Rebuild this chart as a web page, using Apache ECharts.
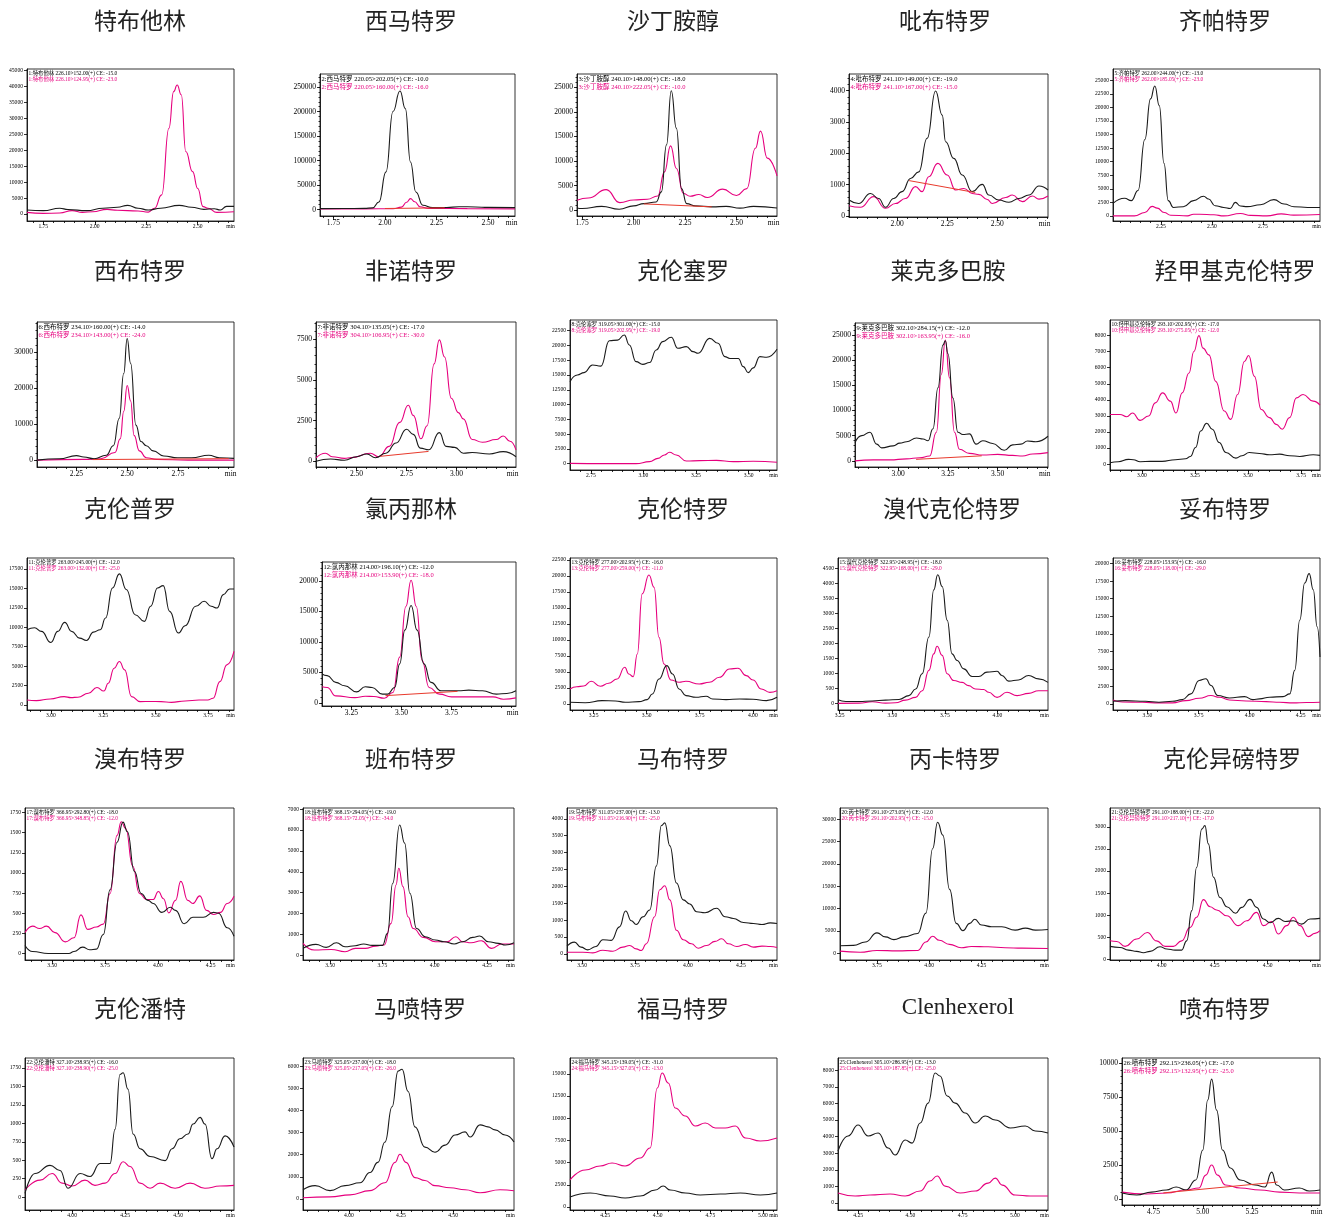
<!DOCTYPE html>
<html><head><meta charset="utf-8">
<script src="https://cdn.jsdelivr.net/npm/echarts@6/dist/echarts.min.js"></script>
<style>html,body{margin:0;padding:0;background:#fff}#c{width:1327px;height:1219px}</style>
</head><body><div id="c"></div>
<script>
// ---------- names & legends ----------
const names = ['特布他林','西马特罗','沙丁胺醇','吡布特罗','齐帕特罗','西布特罗','非诺特罗','克伦塞罗','莱克多巴胺','羟甲基克伦特罗','克伦普罗','氯丙那林','克伦特罗','溴代克伦特罗','妥布特罗','溴布特罗','班布特罗','马布特罗','丙卡特罗','克伦异磅特罗','克伦潘特','马喷特罗','福马特罗','Clenhexerol','喷布特罗'];
const legendBlack = ['1:特布他林 226.10>152.00(+) CE: -15.0','2:西马特罗 220.05>202.05(+) CE: -10.0','3:沙丁胺醇 240.10>148.00(+) CE: -18.0','4:吡布特罗 241.10>149.00(+) CE: -19.0','5:齐帕特罗 262.00>244.00(+) CE: -13.0','6:西布特罗 234.10>160.00(+) CE: -14.0','7:非诺特罗 304.10>135.05(+) CE: -17.0','8:克伦塞罗 319.05>301.00(+) CE: -15.0','9:莱克多巴胺 302.10>284.15(+) CE: -12.0','10:羟甲基克伦特罗 293.10>202.95(+) CE: -17.0','11:克伦普罗 263.00>245.00(+) CE: -12.0','12:氯丙那林 214.00>196.10(+) CE: -12.0','13:克伦特罗 277.00>202.95(+) CE: -16.0','15:溴代克伦特罗 322.95>248.95(+) CE: -18.0','16:妥布特罗 228.05>153.95(+) CE: -16.0','17:溴布特罗 366.95>292.80(+) CE: -18.0','18:班布特罗 368.15>294.05(+) CE: -19.0','19:马布特罗 311.05>237.00(+) CE: -13.0','20:丙卡特罗 291.10>273.05(+) CE: -12.0','21:克伦异磅特罗 291.10>188.00(+) CE: -22.0','22:克伦潘特 327.10>238.95(+) CE: -16.0','23:马喷特罗 325.05>237.00(+) CE: -18.0','24:福马特罗 345.15>139.05(+) CE: -31.0','25:Clenhexerol 305.10>286.95(+) CE: -13.0','26:喷布特罗 292.15>236.05(+) CE: -17.0'];
const legendPink = ['1:特布他林 226.10>124.95(+) CE: -23.0','2:西马特罗 220.05>160.00(+) CE: -16.0','3:沙丁胺醇 240.10>222.05(+) CE: -10.0','4:吡布特罗 241.10>167.00(+) CE: -15.0','5:齐帕特罗 262.00>185.05(+) CE: -23.0','6:西布特罗 234.10>143.00(+) CE: -24.0','7:非诺特罗 304.10>106.95(+) CE: -30.0','8:克伦塞罗 319.05>202.95(+) CE: -19.0','9:莱克多巴胺 302.10>163.95(+) CE: -16.0','10:羟甲基克伦特罗 293.10>275.05(+) CE: -12.0','11:克伦普罗 263.00>132.00(+) CE: -25.0','12:氯丙那林 214.00>153.90(+) CE: -18.0','13:克伦特罗 277.00>259.00(+) CE: -11.0','15:溴代克伦特罗 322.95>168.00(+) CE: -29.0','16:妥布特罗 228.05>118.00(+) CE: -29.0','17:溴布特罗 366.95>348.85(+) CE: -12.0','18:班布特罗 368.15>72.05(+) CE: -34.0','19:马布特罗 311.05>216.90(+) CE: -25.0','20:丙卡特罗 291.10>202.95(+) CE: -15.0','21:克伦异磅特罗 291.10>217.10(+) CE: -17.0','22:克伦潘特 327.10>238.90(+) CE: -25.0','23:马喷特罗 325.05>217.05(+) CE: -26.0','24:福马特罗 345.15>327.05(+) CE: -13.0','25:Clenhexerol 305.10>187.85(+) CE: -25.0','26:喷布特罗 292.15>132.95(+) CE: -25.0'];

// ---------- axis extents & tick labels ----------
const xRange = [[1.671,2.676],[1.685,2.631],[1.725,2.697],[1.76,2.753],[2.015,3.03],[2.056,3.026],[2.298,3.297],[2.651,3.635],[2.783,3.753],[2.85,3.839],[2.886,3.874],[3.103,4.072],[3.139,4.114],[3.242,4.24],[3.331,4.345],[3.371,4.361],[3.37,4.379],[3.429,4.421],[3.573,4.568],[3.756,4.747],[3.778,4.764],[3.779,4.793],[4.083,5.067],[4.154,5.158],[4.59,5.595]];
const yRange = [[-2200,45500],[-13000,276600],[-1160,27700],[-30,4530],[-940,27060],[-1810,38380],[-360,8580],[-1070,24300],[-1220,27370],[-370,8970],[-645,18900],[-500,23100],[-940,22800],[-220,4840],[-860,20800],[-80,1805],[-220,7050],[-180,4320],[-1520,32530],[-20,3430],[-174,1884],[-505,6376],[-340,16780],[-420,8735],[-440,10370]];
const xLabels = [[1.75,2,2.25,2.5],[1.75,2,2.25,2.5],[1.75,2,2.25,2.5],[2,2.25,2.5],[2.25,2.5,2.75],[2.25,2.5,2.75],[2.5,2.75,3],[2.75,3,3.25,3.5],[3,3.25,3.5],[3,3.25,3.5,3.75],[3,3.25,3.5,3.75],[3.25,3.5,3.75],[3.25,3.5,3.75,4],[3.25,3.5,3.75,4],[3.5,3.75,4,4.25],[3.5,3.75,4,4.25],[3.5,3.75,4,4.25],[3.5,3.75,4,4.25],[3.75,4,4.25],[4,4.25,4.5],[4,4.25,4.5],[4,4.25,4.5],[4.25,4.5,4.75,5],[4.25,4.5,4.75,5],[4.75,5,5.25]];
const yStep = [5000,50000,5000,1000,2500,10000,2500,2500,5000,1000,2500,5000,2500,500,2500,250,1000,500,5000,500,250,1000,2500,1000,2500];
const yTop = [45000,250000,25000,4000,25000,30000,7500,22500,25000,8000,17500,20000,22500,4500,20000,1750,7000,4000,30000,3000,1750,6000,15000,8000,10000];

// ---------- traces (retention time min, intensity) ----------
const blk1 = [[1.671,1250],[1.75,1050],[1.83,1800],[1.87,1400],[1.96,1050],[2.04,1800],[2.11,2100],[2.16,2700],[2.21,1800],[2.26,1250],[2.32,1800],[2.41,2700],[2.47,2100],[2.53,1450],[2.58,1650],[2.61,1250],[2.64,2400],[2.676,2400]];
const mag1 = [[1.671,500],[1.75,200],[1.83,300],[1.89,1050],[1.94,500],[1.99,700],[2.06,1450],[2.11,1150],[2.21,950],[2.26,600],[2.29,1800],[2.325,6000],[2.36,26900],[2.383,38400],[2.40,40500],[2.42,37400],[2.442,19600],[2.475,13300],[2.50,8000],[2.526,2300],[2.55,1800],[2.593,500],[2.676,700]];
const blk2 = [[1.685,2000],[1.80,2200],[1.90,2500],[1.94,3500],[1.971,15700],[2.005,77000],[2.039,200000],[2.073,242000],[2.099,206000],[2.124,97000],[2.15,36000],[2.184,9000],[2.23,4000],[2.30,4200],[2.36,6000],[2.44,5500],[2.50,4500],[2.631,4000]];
const mag2 = [[1.685,1500],[1.90,1500],[2.04,1800],[2.08,5000],[2.105,15000],[2.124,22500],[2.145,16000],[2.17,6000],[2.21,2500],[2.40,2000],[2.631,1500]];
const base2 = [[2.0,2300],[2.29,3600]];
const blk3 = [[1.725,480],[1.75,350],[1.845,800],[1.93,200],[2.00,900],[2.05,1360],[2.11,1700],[2.135,3750],[2.16,13300],[2.183,24300],[2.208,16700],[2.233,4400],[2.258,1360],[2.30,900],[2.383,700],[2.45,800],[2.517,450],[2.583,800],[2.697,450]];
const mag3 = [[1.725,2040],[1.78,2500],[1.867,4200],[1.933,1560],[2.00,2100],[2.067,2250],[2.117,2900],[2.15,7800],[2.18,13100],[2.208,8500],[2.242,3400],[2.275,2860],[2.317,3200],[2.358,2600],[2.433,4300],[2.50,3000],[2.55,4400],[2.592,12600],[2.617,16100],[2.65,10600],[2.697,7000]];
const base3 = [[2.05,1300],[2.38,700]];
const blk4 = [[1.76,510],[1.808,400],[1.867,720],[1.908,560],[1.942,280],[1.983,560],[2.025,780],[2.067,1200],[2.108,1410],[2.15,2480],[2.192,3990],[2.225,3220],[2.242,2370],[2.283,1840],[2.325,1310],[2.375,780],[2.425,1010],[2.458,670],[2.508,510],[2.558,440],[2.608,560],[2.658,670],[2.708,960],[2.753,830]];
const mag4 = [[1.76,330],[1.817,280],[1.883,620],[1.942,250],[1.992,400],[2.042,560],[2.092,940],[2.125,780],[2.158,1255],[2.203,1680],[2.25,1310],[2.292,830],[2.333,880],[2.375,720],[2.408,690],[2.45,530],[2.475,400],[2.542,590],[2.575,670],[2.625,460],[2.675,640],[2.708,540],[2.753,640]];
const base4 = [[2.06,1130],[2.39,750]];
const blk5 = [[2.015,2310],[2.072,3250],[2.105,2810],[2.138,4690],[2.171,14060],[2.199,21560],[2.22,23940],[2.242,20310],[2.265,9690],[2.286,2810],[2.311,1560],[2.36,1690],[2.41,2810],[2.459,3625],[2.484,3100],[2.516,1875],[2.558,1560],[2.59,1375],[2.615,2500],[2.64,1810],[2.673,1700],[2.738,2060],[2.804,3000],[2.854,2190],[2.903,1690],[2.969,1560],[3.03,1560]];
const mag5 = [[2.015,0],[2.12,0],[2.171,625],[2.207,1750],[2.232,1440],[2.266,625],[2.298,125],[2.38,0],[2.41,300],[2.44,310],[2.51,200],[2.558,0],[2.64,440],[2.69,100],[2.77,0],[2.84,375],[2.90,150],[3.03,250]];
const blk6 = [[2.056,100],[2.166,480],[2.25,1330],[2.286,950],[2.337,480],[2.397,1430],[2.432,4100],[2.461,11700],[2.483,24100],[2.50,33800],[2.517,26900],[2.543,9800],[2.568,5240],[2.594,4100],[2.628,2670],[2.68,1240],[2.748,760],[2.817,760],[2.902,1430],[2.954,760],[3.026,570]];
const mag6 = [[2.056,100],[2.286,290],[2.371,480],[2.44,2190],[2.466,6000],[2.483,13600],[2.50,20800],[2.517,16500],[2.534,6950],[2.56,2670],[2.594,760],[2.645,290],[2.80,100],[3.026,100]];
const base6 = [[2.33,250],[3.0,500]];
const blk7 = [[2.298,0],[2.371,130],[2.44,60],[2.50,275],[2.552,445],[2.595,210],[2.647,490],[2.698,1120],[2.75,1970],[2.784,1650],[2.819,805],[2.862,700],[2.914,1760],[2.948,910],[2.991,850],[3.034,490],[3.078,530],[3.164,445],[3.233,590],[3.297,275]];
const mag7 = [[2.298,210],[2.345,490],[2.379,275],[2.44,170],[2.474,220],[2.569,490],[2.612,275],[2.664,910],[2.716,2390],[2.759,3450],[2.784,2820],[2.822,1380],[2.853,2180],[2.888,6000],[2.914,7480],[2.94,6420],[2.974,3880],[3.009,2990],[3.034,2610],[3.078,1335],[3.129,1165],[3.198,1335],[3.233,1550],[3.267,1230],[3.297,700]];
const base7 = [[2.62,300],[2.86,600]];
const blk8 = [[2.651,13870],[2.686,15000],[2.718,15400],[2.758,16700],[2.798,16500],[2.838,20800],[2.877,20900],[2.909,21770],[2.933,20080],[2.965,17260],[2.997,16800],[3.029,17100],[3.061,19230],[3.092,20640],[3.132,21380],[3.164,19510],[3.204,19800],[3.236,18950],[3.26,18670],[3.315,21200],[3.355,20360],[3.387,18100],[3.411,17800],[3.451,17800],[3.475,16410],[3.498,15400],[3.522,16200],[3.554,18100],[3.586,18000],[3.635,19350]];
const mag8 = [[2.651,50],[2.82,0],[2.965,0],[3.029,340],[3.069,900],[3.10,1470],[3.124,1920],[3.156,1470],[3.204,450],[3.267,510],[3.347,560],[3.427,340],[3.522,400],[3.635,230]];
const blk9 = [[2.783,3660],[2.817,5010],[2.858,5690],[2.892,3320],[2.917,2570],[2.975,2980],[3.008,3520],[3.042,3790],[3.092,4540],[3.125,4340],[3.15,4000],[3.175,6370],[3.20,14500],[3.225,22970],[3.237,23850],[3.25,21270],[3.275,12470],[3.30,5690],[3.325,5220],[3.358,5350],[3.392,3320],[3.425,4000],[3.475,3460],[3.533,2100],[3.575,3180],[3.617,3320],[3.65,3930],[3.692,3800],[3.753,4880]];
const mag9 = [[2.783,0],[2.875,200],[2.958,200],[3.042,400],[3.108,610],[3.158,950],[3.192,5690],[3.217,17200],[3.237,24000],[3.258,16500],[3.283,5690],[3.308,2300],[3.358,1490],[3.425,1150],[3.50,1290],[3.575,1080],[3.625,950],[3.675,1360],[3.753,1630]];
const base9 = [[3.09,300],[3.42,1000]];
const blk10 = [[2.85,80],[2.889,145],[2.937,290],[2.96,270],[2.992,145],[3.04,165],[3.095,165],[3.158,270],[3.206,330],[3.229,475],[3.253,1030],[3.277,2060],[3.305,2540],[3.332,2170],[3.364,1340],[3.396,720],[3.443,370],[3.472,520],[3.506,720],[3.554,660],[3.601,580],[3.649,620],[3.696,520],[3.744,475],[3.807,580],[3.839,540]];
const mag10 = [[2.85,3090],[2.897,3090],[2.929,2950],[2.956,3180],[2.992,2720],[3.032,2990],[3.063,3810],[3.098,4430],[3.134,3920],[3.161,3180],[3.19,4430],[3.222,5670],[3.245,7010],[3.269,8000],[3.288,7220],[3.316,6800],[3.348,5150],[3.388,3300],[3.419,2780],[3.451,4330],[3.483,6390],[3.503,6760],[3.53,5460],[3.562,3400],[3.601,2890],[3.633,2470],[3.661,2170],[3.696,2890],[3.728,4120],[3.759,4330],[3.807,3920],[3.839,3670]];
const blk11 = [[2.886,9680],[2.922,9930],[2.955,9460],[3.00,8040],[3.033,9460],[3.066,10620],[3.099,9460],[3.137,8600],[3.17,8300],[3.203,9370],[3.236,9680],[3.261,11180],[3.294,15050],[3.327,16860],[3.36,14840],[3.402,11610],[3.446,10750],[3.476,12690],[3.509,15050],[3.536,15350],[3.567,12040],[3.608,9250],[3.641,10190],[3.691,12690],[3.732,13330],[3.765,12690],[3.793,12470],[3.823,14190],[3.853,14920],[3.874,14920]];
const mag11 = [[2.886,645],[2.931,560],[2.997,775],[3.063,1075],[3.096,950],[3.129,1000],[3.179,1500],[3.22,2240],[3.253,1800],[3.274,2800],[3.302,4730],[3.327,5590],[3.352,4520],[3.385,1075],[3.426,430],[3.476,450],[3.526,430],[3.575,340],[3.641,520],[3.707,645],[3.749,640],[3.774,860],[3.807,3010],[3.84,5160],[3.874,6880]];
const blk12 = [[3.103,4750],[3.129,4470],[3.172,3370],[3.216,2820],[3.276,1820],[3.319,2650],[3.353,2540],[3.405,1440],[3.431,1440],[3.466,2540],[3.491,6410],[3.517,11930],[3.548,15970],[3.578,11930],[3.612,6410],[3.647,3370],[3.698,1990],[3.784,1990],[3.836,2100],[3.905,1990],[3.974,1440],[4.026,1550],[4.072,1990]];
const mag12 = [[3.103,2650],[3.129,2540],[3.172,1160],[3.267,880],[3.319,1100],[3.362,1050],[3.414,770],[3.457,1710],[3.491,7510],[3.522,15800],[3.548,20110],[3.574,15800],[3.603,6960],[3.638,2540],[3.69,1440],[3.75,990],[3.836,990],[3.957,990],[4.009,610],[4.072,830]];
const base12 = [[3.42,1200],[3.78,1900]];
const blk13 = [[3.139,260],[3.211,200],[3.29,520],[3.353,470],[3.40,260],[3.464,365],[3.503,680],[3.527,1560],[3.558,3900],[3.595,5990],[3.622,4690],[3.653,2340],[3.685,1300],[3.732,1040],[3.78,1200],[3.811,780],[3.874,680],[3.938,780],[4.001,730],[4.064,520],[4.114,1040]];
const mag13 = [[3.139,2340],[3.171,2700],[3.203,2800],[3.239,3540],[3.282,2760],[3.321,3230],[3.361,3900],[3.397,5730],[3.416,4690],[3.437,4270],[3.456,7810],[3.479,17190],[3.511,20150],[3.535,18230],[3.558,10420],[3.582,6250],[3.614,3750],[3.653,3390],[3.685,3540],[3.748,3125],[3.795,3390],[3.843,4170],[3.89,5470],[3.93,5570],[3.969,4430],[4.001,3750],[4.04,2340],[4.08,1820],[4.114,2080]];
const blk15 = [[3.242,120],[3.279,65],[3.342,65],[3.405,80],[3.468,110],[3.532,130],[3.579,260],[3.611,480],[3.642,985],[3.674,2210],[3.697,3780],[3.716,4280],[3.737,3890],[3.761,2770],[3.784,1650],[3.808,1430],[3.84,1150],[3.879,895],[3.911,895],[3.95,1040],[3.998,1070],[4.021,930],[4.053,740],[4.10,780],[4.148,930],[4.195,815],[4.24,700]];
const mag15 = [[3.242,0],[3.342,10],[3.405,55],[3.468,10],[3.515,20],[3.563,110],[3.611,200],[3.642,420],[3.674,1100],[3.697,1650],[3.713,1900],[3.737,1600],[3.761,985],[3.792,760],[3.832,700],[3.863,590],[3.895,480],[3.934,460],[3.958,370],[3.998,200],[4.045,370],[4.093,260],[4.148,335],[4.195,420],[4.24,420]];
const blk16 = [[3.331,380],[3.392,480],[3.49,380],[3.556,240],[3.622,380],[3.671,620],[3.712,1440],[3.753,3350],[3.786,3590],[3.811,2630],[3.844,1200],[3.901,860],[3.975,1050],[4.016,620],[4.049,720],[4.098,960],[4.164,1050],[4.197,1440],[4.221,4790],[4.246,11960],[4.27,17230],[4.292,18570],[4.312,16270],[4.331,11000],[4.345,6700]];
const mag16 = [[3.331,570],[3.377,290],[3.475,240],[3.556,150],[3.622,150],[3.688,480],[3.753,810],[3.811,1200],[3.852,960],[3.901,570],[3.983,430],[4.082,330],[4.148,240],[4.213,150],[4.279,200],[4.345,240]];
const blk17 = [[3.371,100],[3.407,25],[3.481,0],[3.579,0],[3.603,25],[3.644,80],[3.677,47],[3.709,55],[3.742,237],[3.774,790],[3.807,1380],[3.835,1630],[3.856,1510],[3.889,1020],[3.921,745],[3.954,660],[3.978,620],[4.019,510],[4.06,575],[4.084,535],[4.125,370],[4.166,450],[4.215,450],[4.264,510],[4.288,500],[4.329,320],[4.361,215]];
const mag17 = [[3.371,260],[3.407,340],[3.44,310],[3.473,340],[3.513,260],[3.562,145],[3.603,195],[3.636,480],[3.668,300],[3.709,330],[3.742,365],[3.774,745],[3.807,1465],[3.827,1635],[3.848,1550],[3.881,1085],[3.913,745],[3.946,670],[3.978,670],[4.003,770],[4.027,680],[4.052,505],[4.084,660],[4.109,895],[4.142,660],[4.166,620],[4.199,715],[4.231,535],[4.264,485],[4.297,510],[4.329,620],[4.361,710]];
const blk18 = [[3.37,335],[3.432,525],[3.481,385],[3.53,605],[3.571,415],[3.62,465],[3.66,545],[3.701,480],[3.75,480],[3.774,1055],[3.799,3450],[3.832,6240],[3.856,5370],[3.881,2970],[3.913,1290],[3.954,895],[4.003,735],[4.044,655],[4.093,545],[4.133,655],[4.182,860],[4.215,925],[4.256,655],[4.305,575],[4.337,495],[4.379,605]];
const mag18 = [[3.37,575],[3.424,255],[3.505,285],[3.571,175],[3.62,335],[3.668,335],[3.717,445],[3.758,495],[3.791,1530],[3.815,3370],[3.828,4170],[3.848,3290],[3.872,1850],[3.897,1290],[3.946,860],[4.003,655],[4.06,655],[4.101,895],[4.133,655],[4.174,605],[4.223,700],[4.272,335],[4.321,545],[4.379,545]];
const blk19 = [[3.429,230],[3.464,350],[3.495,200],[3.527,120],[3.566,220],[3.598,420],[3.638,400],[3.677,800],[3.706,1270],[3.733,980],[3.756,870],[3.788,1100],[3.82,1300],[3.851,2600],[3.875,3800],[3.891,3880],[3.915,3200],[3.946,2100],[3.978,1600],[4.009,1480],[4.041,1250],[4.081,1220],[4.136,1350],[4.176,1100],[4.215,1050],[4.263,930],[4.31,900],[4.35,870],[4.389,920],[4.421,900]];
const mag19 = [[3.429,50],[3.503,50],[3.551,30],[3.598,110],[3.646,80],[3.693,200],[3.725,250],[3.756,150],[3.78,100],[3.804,300],[3.843,1100],[3.867,1900],[3.891,2020],[3.915,1600],[3.946,700],[3.978,420],[4.017,300],[4.049,170],[4.089,250],[4.128,370],[4.16,450],[4.191,300],[4.231,220],[4.271,280],[4.31,200],[4.35,230],[4.389,220],[4.421,190]];
const blk20 = [[3.573,1670],[3.637,1750],[3.694,2510],[3.75,4560],[3.79,3650],[3.831,3040],[3.879,3650],[3.944,4410],[3.984,8970],[4.016,23400],[4.04,29340],[4.065,26450],[4.097,14290],[4.129,6690],[4.161,5020],[4.194,6690],[4.218,7600],[4.25,6310],[4.298,5930],[4.347,5930],[4.411,5170],[4.46,5620],[4.508,5170],[4.568,5320]];
const mag20 = [[3.573,460],[3.669,230],[3.75,610],[3.847,530],[3.944,610],[3.984,2510],[4.016,3800],[4.048,2890],[4.097,1980],[4.153,1220],[4.202,1520],[4.282,1440],[4.363,1220],[4.444,1140],[4.568,1060]];
const blk21 = [[3.756,290],[3.803,265],[3.843,205],[3.882,175],[3.914,145],[3.945,175],[3.992,280],[4.024,230],[4.063,205],[4.094,205],[4.118,415],[4.142,1100],[4.165,2085],[4.189,2950],[4.204,3030],[4.22,2615],[4.244,1860],[4.275,1400],[4.307,1190],[4.349,1040],[4.377,1175],[4.417,1355],[4.448,1175],[4.48,910],[4.511,825],[4.55,925],[4.582,855],[4.621,870],[4.66,795],[4.70,910],[4.747,925]];
const mag21 = [[3.756,415],[3.788,400],[3.827,290],[3.882,455],[3.932,605],[3.976,415],[4.016,290],[4.055,290],[4.094,415],[4.134,720],[4.165,950],[4.197,1350],[4.228,1190],[4.259,1115],[4.307,985],[4.362,760],[4.401,870],[4.448,1060],[4.48,760],[4.519,855],[4.55,570],[4.59,760],[4.621,950],[4.653,760],[4.692,510],[4.723,585],[4.747,645]];
const blk22 = [[3.778,50],[3.825,320],[3.896,430],[3.943,360],[3.981,120],[4.038,320],[4.085,280],[4.132,455],[4.179,455],[4.203,920],[4.226,1660],[4.241,1685],[4.264,1460],[4.288,855],[4.321,655],[4.368,550],[4.439,495],[4.472,655],[4.509,790],[4.547,855],[4.571,990],[4.604,1080],[4.627,990],[4.66,520],[4.684,655],[4.722,830],[4.764,680]];
const mag22 = [[3.778,95],[3.849,230],[3.906,320],[3.953,190],[4.00,150],[4.061,230],[4.108,160],[4.156,190],[4.203,320],[4.241,480],[4.274,415],[4.321,190],[4.368,120],[4.415,190],[4.486,120],[4.557,190],[4.627,120],[4.698,150],[4.764,160]];
const blk23 = [[3.779,410],[3.837,600],[3.909,370],[3.981,600],[4.053,730],[4.101,1190],[4.139,1650],[4.173,2570],[4.207,4170],[4.236,5780],[4.255,5870],[4.284,4860],[4.317,3260],[4.365,2340],[4.413,2110],[4.462,2430],[4.51,2890],[4.558,3030],[4.582,2800],[4.63,3350],[4.668,3260],[4.702,3120],[4.75,2890],[4.793,2570]];
const mag23 = [[3.779,50],[3.909,90],[4.005,180],[4.101,370],[4.173,730],[4.221,1650],[4.245,2020],[4.274,1650],[4.317,960],[4.365,830],[4.413,600],[4.486,500],[4.558,410],[4.63,275],[4.726,410],[4.793,370]];
const blk24 = [[4.083,1130],[4.179,1580],[4.274,1240],[4.345,1010],[4.417,1240],[4.488,1910],[4.526,2360],[4.56,1910],[4.631,1580],[4.702,1350],[4.798,1460],[4.893,1580],[4.988,1350],[5.067,1580]];
const mag24 = [[4.083,3040],[4.155,4170],[4.226,4620],[4.283,4950],[4.345,4620],[4.417,5520],[4.464,6640],[4.498,13400],[4.521,15090],[4.55,13960],[4.583,11150],[4.631,10250],[4.679,9120],[4.726,9460],[4.774,8900],[4.821,8900],[4.869,9120],[4.917,7770],[4.988,7430],[5.067,7770]];
const blk25 = [[4.154,3130],[4.202,4040],[4.25,4700],[4.298,4040],[4.346,4220],[4.394,3310],[4.427,2890],[4.475,3800],[4.508,3610],[4.547,4820],[4.585,6020],[4.618,7830],[4.642,7650],[4.676,6450],[4.714,6020],[4.762,5420],[4.81,4820],[4.858,5240],[4.906,5000],[4.977,4520],[5.049,4640],[5.097,4340],[5.158,4220]];
const mag25 = [[4.154,600],[4.236,420],[4.307,480],[4.403,540],[4.475,420],[4.547,720],[4.594,1330],[4.628,1630],[4.666,1020],[4.738,600],[4.81,720],[4.872,1200],[4.906,1500],[4.939,1080],[5.001,480],[5.073,420],[5.158,420]];
const blk26 = [[4.59,440],[4.665,290],[4.74,510],[4.815,660],[4.865,880],[4.915,660],[4.965,1400],[5.00,3600],[5.025,7280],[5.045,8820],[5.07,6540],[5.10,3600],[5.14,2280],[5.19,1400],[5.265,1030],[5.315,880],[5.35,1980],[5.375,1030],[5.415,660],[5.49,810],[5.54,590],[5.595,660]];
const mag26 = [[4.59,510],[4.715,370],[4.815,440],[4.915,660],[4.98,810],[5.015,1760],[5.045,2500],[5.075,1760],[5.115,1030],[5.19,810],[5.29,660],[5.39,510],[5.49,440],[5.595,440]];
const base26 = [[4.80,450],[5.38,1250]];

const blackSets = [blk1,blk2,blk3,blk4,blk5,blk6,blk7,blk8,blk9,blk10,blk11,blk12,blk13,blk15,blk16,blk17,blk18,blk19,blk20,blk21,blk22,blk23,blk24,blk25,blk26];
const pinkSets = [mag1,mag2,mag3,mag4,mag5,mag6,mag7,mag8,mag9,mag10,mag11,mag12,mag13,mag15,mag16,mag17,mag18,mag19,mag20,mag21,mag22,mag23,mag24,mag25,mag26];
const baseSets = [null,base2,base3,base4,null,base6,base7,null,base9,null,null,base12,null,null,null,null,null,null,null,null,null,null,null,null,base26];

// ---------- layout (pixels) ----------
const boxes = [[27,69,234,221],[320,74,515,216],[577,74,777,216],[849,74,1048,217],[1113,69,1320,221],
 [37,322,234,467],[316,322,516,467],[570,320,777,470],[855,323,1048,467],[1110,320,1320,470],
 [27,558,234,710],[322,562,516,706],[570,558,777,710],[838,558,1048,710],[1113,558,1320,710],
 [25,808,234,960],[303,808,514,960],[567,808,777,960],[840,808,1048,960],[1110,808,1320,960],
 [25,1058,234,1210],[303,1058,514,1210],[570,1058,777,1210],[838,1058,1048,1210],[1122,1058,1320,1205]];
const titlePos = [[140,20],[411,20],[673,20],[945,20],[1225,20],[140,270],[411,270],[683,270],[948,270],[1235,270],[130,508],[411,508],[683,508],[952,508],[1225,508],[140,758],[411,758],[683,758],[955,758],[1232,758],[140,1008],[420,1008],[683,1008],[958,1008],[1225,1008]];
const medium = [0,1,1,1,0,1,1,0,1,0,0,1,0,0,0,0,0,0,0,0,0,0,0,0,1];

const BLACK = '#1a1a1a', PINK = '#e6007e', RED = '#e83a2c';
const SERIF = '"Liberation Serif","Noto Sans CJK SC",serif';
const grid = [], xAxis = [], yAxis = [], series = [], graphic = [];

for (let i = 0; i < 25; i++) {
  const [l, t, r, b] = boxes[i];
  const med = !!medium[i];
  const fs = med ? 7.5 : 5.6;
  const lfs = med ? 6.5 : 5.4;
  const [x0, x1] = xRange[i];
  const [y0, y1] = yRange[i];
  grid.push({left: l, top: t, width: r - l, height: b - t, show: true, borderColor: '#000', borderWidth: 0.8,
    backgroundColor: 'transparent', containLabel: false, outerBoundsMode: 'none'});
  const minPos = x1 - (x1 - x0) * 0.017;
  const xl = xLabels[i];
  const minorX = [];
  for (let k = Math.ceil(x0 * 20); k <= Math.floor(x1 * 20); k++) minorX.push(k / 20);
  const yl = [];
  for (let v = 0; v <= yTop[i]; v += yStep[i]) yl.push(v);
  const minorY = [];
  if (med) { const ms = yStep[i] / 5; for (let v = 0; v <= y1; v += ms) minorY.push(v); }
  const lineCommon = {color: '#000', width: 0.8};
  xAxis.push({gridIndex: i, type: 'value', position: 'bottom', min: x0, max: x1,
    axisLine: {show: true, onZero: false, lineStyle: lineCommon},
    axisTick: {show: true, inside: false, customValues: xl, length: 4, lineStyle: lineCommon},
    axisLabel: {show: true, customValues: xl.concat([minPos]), margin: 3, fontSize: fs, fontFamily: SERIF, color: '#000',
      hideOverlap: false,
      formatter: (v) => Math.abs(v - minPos) < 1e-6 ? 'min' : Number(v).toFixed(2)},
    splitLine: {show: false}});
  xAxis.push({gridIndex: i, type: 'value', position: 'bottom', min: x0, max: x1,
    axisLine: {show: false, onZero: false},
    axisTick: {show: true, customValues: minorX, length: 2, lineStyle: lineCommon},
    axisLabel: {show: false}, splitLine: {show: false}});
  yAxis.push({gridIndex: i, type: 'value', position: 'left', min: y0, max: y1,
    axisLine: {show: true, onZero: false, lineStyle: lineCommon},
    axisTick: {show: true, customValues: yl, length: 3, lineStyle: lineCommon},
    axisLabel: {show: true, customValues: yl, margin: 4, fontSize: fs, fontFamily: SERIF, color: '#000',
      formatter: (v) => String(Math.round(v))},
    splitLine: {show: false}});
  yAxis.push({gridIndex: i, type: 'value', position: 'left', min: y0, max: y1,
    axisLine: {show: false, onZero: false},
    axisTick: {show: minorY.length > 0, customValues: minorY.length ? minorY : [0], length: 1.5, lineStyle: lineCommon},
    axisLabel: {show: false}, splitLine: {show: false}});

  series.push({type: 'line', xAxisIndex: 2 * i, yAxisIndex: 2 * i, data: pinkSets[i], smooth: 0.5, smoothMonotone: 'x',
    symbol: 'none', showSymbol: false, silent: true, lineStyle: {color: PINK, width: 1.1}, itemStyle: {color: PINK}, z: 3});
  series.push({type: 'line', xAxisIndex: 2 * i, yAxisIndex: 2 * i, data: blackSets[i], smooth: 0.5, smoothMonotone: 'x',
    symbol: 'none', showSymbol: false, silent: true, lineStyle: {color: BLACK, width: 1.1}, itemStyle: {color: BLACK}, z: 4});
  if (baseSets[i]) {
    series.push({type: 'line', xAxisIndex: 2 * i, yAxisIndex: 2 * i, data: baseSets[i], smooth: false,
      symbol: 'none', showSymbol: false, silent: true, lineStyle: {color: RED, width: 1}, itemStyle: {color: RED}, z: 5});
  }

  // chart title
  const isLatin = /^[A-Za-z]/.test(names[i]);
  graphic.push({type: 'text', x: titlePos[i][0], y: titlePos[i][1], silent: true,
    style: {text: names[i], align: 'center', verticalAlign: 'middle', textAlign: 'center', textVerticalAlign: 'middle',
      fill: '#222', font: isLatin ? '23px "Liberation Serif", serif' : '23px "Noto Sans CJK SC", sans-serif'}});
  // transition legends
  const ly = med ? 2 : 1.5;
  const lh = med ? 8.5 : 6.8;
  graphic.push({type: 'text', x: l + 1.5, y: t + ly, silent: true, z: 10,
    style: {text: legendBlack[i], align: 'left', verticalAlign: 'top', textAlign: 'left', textVerticalAlign: 'top',
      fill: '#000', font: lfs + 'px ' + SERIF}});
  graphic.push({type: 'text', x: l + 1.5, y: t + ly + lh, silent: true, z: 10,
    style: {text: legendPink[i], align: 'left', verticalAlign: 'top', textAlign: 'left', textVerticalAlign: 'top',
      fill: PINK, font: lfs + 'px ' + SERIF}});
}

const chart = echarts.init(document.getElementById('c'), null, {renderer: 'canvas', width: 1327, height: 1219});
chart.setOption({
  animation: false,
  backgroundColor: '#fff',
  textStyle: {fontFamily: SERIF},
  grid, xAxis, yAxis, series, graphic
});
</script></body></html>
